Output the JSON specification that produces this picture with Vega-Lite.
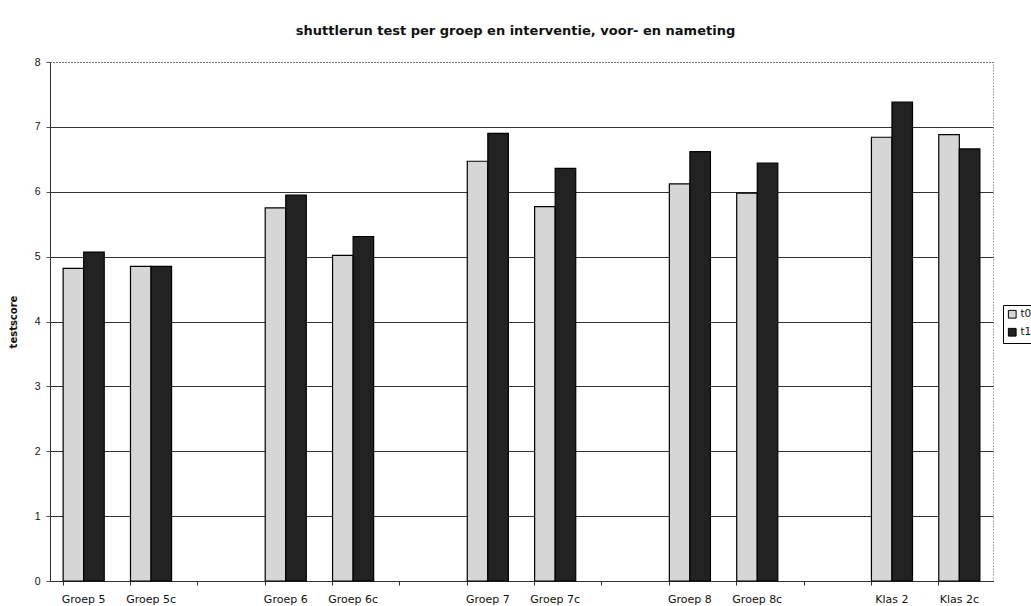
{
  "$schema": "https://vega.github.io/schema/vega-lite/v6.json",
  "autosize": {"type": "none"},
  "width": 943,
  "height": 519,
  "padding": {"left": 50, "top": 62, "right": 38, "bottom": 25},
  "background": "white",
  "config": {
    "font": "Liberation Sans",
    "view": {"stroke": "#666", "strokeDash": [1, 2], "strokeWidth": 1}
  },
  "title": {
    "text": "shuttlerun test per groep en interventie, voor- en nameting",
    "font": "DejaVu Sans",
    "fontSize": 13,
    "fontWeight": "bold",
    "color": "#111",
    "anchor": "middle",
    "dx": -6,
    "offset": 19
  },
  "data": {
    "values": [
      {"groep": "Groep 5", "meting": "t0", "score": 4.82},
      {"groep": "Groep 5", "meting": "t1", "score": 5.07},
      {"groep": "Groep 5c", "meting": "t0", "score": 4.85},
      {"groep": "Groep 5c", "meting": "t1", "score": 4.85},
      {"groep": "Groep 6", "meting": "t0", "score": 5.75},
      {"groep": "Groep 6", "meting": "t1", "score": 5.95},
      {"groep": "Groep 6c", "meting": "t0", "score": 5.02},
      {"groep": "Groep 6c", "meting": "t1", "score": 5.31},
      {"groep": "Groep 7", "meting": "t0", "score": 6.47},
      {"groep": "Groep 7", "meting": "t1", "score": 6.9},
      {"groep": "Groep 7c", "meting": "t0", "score": 5.77},
      {"groep": "Groep 7c", "meting": "t1", "score": 6.36},
      {"groep": "Groep 8", "meting": "t0", "score": 6.12},
      {"groep": "Groep 8", "meting": "t1", "score": 6.62},
      {"groep": "Groep 8c", "meting": "t0", "score": 5.98},
      {"groep": "Groep 8c", "meting": "t1", "score": 6.44},
      {"groep": "Klas 2", "meting": "t0", "score": 6.84},
      {"groep": "Klas 2", "meting": "t1", "score": 7.38},
      {"groep": "Klas 2c", "meting": "t0", "score": 6.88},
      {"groep": "Klas 2c", "meting": "t1", "score": 6.66}
    ]
  },
  "mark": {"type": "bar", "stroke": "#000", "strokeWidth": 1.2},
  "encoding": {
    "x": {
      "field": "groep",
      "type": "nominal",
      "title": null,
      "scale": {
        "domain": ["Groep 5", "Groep 5c", "_a", "Groep 6", "Groep 6c", "_b", "Groep 7", "Groep 7c", "_c", "Groep 8", "Groep 8c", "_d", "Klas 2", "Klas 2c"],
        "paddingInner": 0.39,
        "paddingOuter": 0.195
      },
      "axis": {
        "labelAngle": 0,
        "labelExpr": "indexof(datum.label, '_') == 0 ? '' : datum.label",
        "labelFont": "DejaVu Sans",
        "labelFontSize": 11,
        "labelColor": "#111",
        "labelPadding": 8,
        "bandPosition": 0,
        "tickSize": 4,
        "tickColor": "#333",
        "domainColor": "#333",
        "grid": false
      }
    },
    "xOffset": {"field": "meting", "type": "nominal", "scale": {"paddingInner": 0, "paddingOuter": 0}},
    "y": {
      "field": "score",
      "type": "quantitative",
      "title": "testscore",
      "scale": {"domain": [0, 8], "nice": false},
      "axis": {
        "values": [0, 1, 2, 3, 4, 5, 6, 7, 8],
        "titleFont": "DejaVu Sans",
        "titleFontSize": 10,
        "titleFontWeight": "bold",
        "titleColor": "#111",
        "titlePadding": 16,
        "labelFontSize": 10.5,
        "labelColor": "#111",
        "labelPadding": 6,
        "tickSize": 4,
        "tickColor": "#555",
        "domainColor": "#333",
        "grid": true,
        "gridColor": "#333",
        "gridWidth": 1,
        "gridDash": {"condition": {"test": "datum.value == 8", "value": [1, 2]}, "value": []}
      }
    },
    "color": {
      "field": "meting",
      "type": "nominal",
      "scale": {"domain": ["t0", "t1"], "range": ["#d6d6d6", "#222222"]},
      "legend": {
        "title": null,
        "orient": "none",
        "legendX": 953,
        "legendY": 243,
        "symbolType": "square",
        "symbolSize": 60,
        "symbolStrokeColor": "#000",
        "symbolStrokeWidth": 1,
        "labelFont": "DejaVu Sans",
        "labelFontSize": 10.5,
        "labelColor": "#111",
        "labelOffset": 3,
        "rowPadding": 5,
        "padding": 4,
        "strokeColor": "#000",
        "fillColor": "white"
      }
    }
  }
}
